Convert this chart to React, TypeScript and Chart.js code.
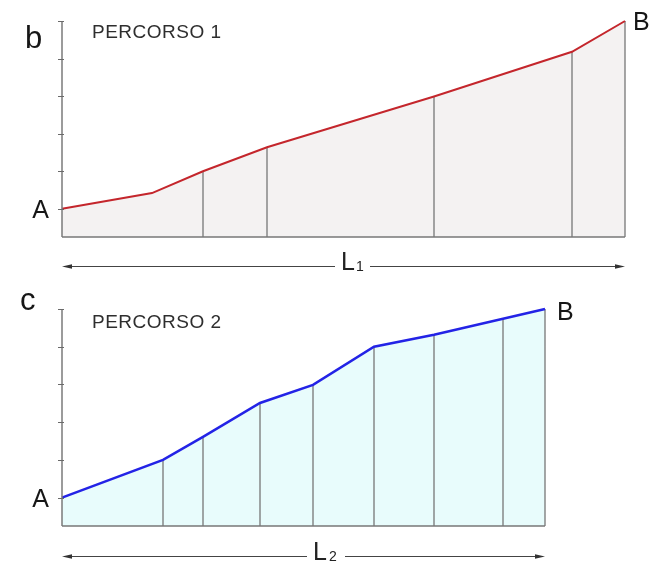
import React, { useEffect, useRef } from "react";
import { Chart, registerables } from "chart.js";

Chart.register(...registerables);

// ---- data ----
const yTicks = [0.75, 1.75, 2.75, 3.75, 4.75, 5.75];

const route1X = [0, 90, 141, 205, 372, 510, 563];
const route1Y = [0.75, 1.17, 1.75, 2.39, 3.74, 4.93, 5.75];
const route1Stations = [2, 3, 4, 5, 6];

const route2X = [0, 101, 141, 198, 251, 312, 372, 441, 483];
const route2Y = [0.75, 1.75, 2.36, 3.26, 3.74, 4.75, 5.07, 5.49, 5.75];
const route2Stations = [1, 2, 3, 4, 5, 6, 7, 8];

const FONT = '"Liberation Sans", Arial, sans-serif';

type Cfg = {
  xs: number[];
  ys: number[];
  stations: number[];
  lineColor: string;
  lineWidth: number;
  fillColor: string;
  letter: string;
  title: string;
  sub: string;
  pad: { left: number; right: number; top: number; bottom: number };
  letterPos: [number, number];
  titleBase: number;
  bOffset: [number, number];
  arrowDy: number;
  gap: [number, number];
  lX: number;
  subX: number;
  labelBase: number;
};

const cfg1: Cfg = {
  xs: route1X,
  ys: route1Y,
  stations: route1Stations,
  lineColor: "#c4262c",
  lineWidth: 2,
  fillColor: "#f4f2f2",
  letter: "b",
  title: "PERCORSO 1",
  sub: "1",
  pad: { left: 62, right: 30, top: 21, bottom: 45 },
  letterPos: [25, 48],
  titleBase: 38,
  bOffset: [8, 9],
  arrowDy: 29,
  gap: [335, 370],
  lX: 341,
  subX: 356,
  labelBase: 270,
};

const cfg2: Cfg = {
  xs: route2X,
  ys: route2Y,
  stations: route2Stations,
  lineColor: "#2323e6",
  lineWidth: 2.5,
  fillColor: "#e8fcfc",
  letter: "c",
  title: "PERCORSO 2",
  sub: "2",
  pad: { left: 62, right: 110, top: 27, bottom: 38 },
  letterPos: [20, 28],
  titleBase: 46,
  bOffset: [12, 11],
  arrowDy: 30,
  gap: [307, 345],
  lX: 313,
  subX: 329,
  labelBase: 278,
};

function makeDecor(c: Cfg) {
  return {
    id: "decor",
    afterDatasetsDraw(chart: any) {
      const { ctx, chartArea: a, scales } = chart;
      const y = scales.y;
      ctx.save();
      // y axis
      ctx.strokeStyle = "#7a7a7a";
      ctx.lineWidth = 1.5;
      ctx.beginPath();
      ctx.moveTo(a.left, a.top);
      ctx.lineTo(a.left, a.bottom);
      ctx.stroke();
      ctx.strokeStyle = "#6a6a6a";
      ctx.lineWidth = 1.2;
      ctx.beginPath();
      for (const v of yTicks) {
        const py = Math.round(y.getPixelForValue(v)) + 0.5;
        ctx.moveTo(a.left - 4, py);
        ctx.lineTo(a.left + 2, py);
      }
      ctx.stroke();
      // baseline
      ctx.strokeStyle = "#777";
      ctx.lineWidth = 1.5;
      ctx.beginPath();
      ctx.moveTo(a.left, a.bottom);
      ctx.lineTo(a.right, a.bottom);
      ctx.stroke();

      // arrow
      const ay = a.bottom + c.arrowDy + 0.5;
      ctx.strokeStyle = "#444";
      ctx.fillStyle = "#333";
      ctx.lineWidth = 1;
      ctx.beginPath();
      ctx.moveTo(a.left + 4, ay);
      ctx.lineTo(c.gap[0], ay);
      ctx.moveTo(c.gap[1], ay);
      ctx.lineTo(a.right - 4, ay);
      ctx.stroke();
      ctx.beginPath();
      ctx.moveTo(a.left, ay);
      ctx.lineTo(a.left + 10, ay - 2.2);
      ctx.lineTo(a.left + 10, ay + 2.2);
      ctx.closePath();
      ctx.fill();
      ctx.beginPath();
      ctx.moveTo(a.right, ay);
      ctx.lineTo(a.right - 10, ay - 2.2);
      ctx.lineTo(a.right - 10, ay + 2.2);
      ctx.closePath();
      ctx.fill();

      // texts
      ctx.textBaseline = "alphabetic";
      ctx.fillStyle = "#161616";
      ctx.textAlign = "left";
      ctx.font = `31px ${FONT}`;
      ctx.fillText(c.letter, c.letterPos[0], c.letterPos[1]);

      ctx.font = `25px ${FONT}`;
      const yA = y.getPixelForValue(c.ys[0]);
      const yB = y.getPixelForValue(c.ys[c.ys.length - 1]);
      ctx.textAlign = "right";
      ctx.fillText("A", a.left - 13, yA + 9);
      ctx.textAlign = "left";
      ctx.fillText("B", a.right + c.bOffset[0], yB + c.bOffset[1]);

      ctx.fillStyle = "#222";
      ctx.font = `25px ${FONT}`;
      ctx.fillText("L", c.lX, c.labelBase);
      ctx.font = `14px ${FONT}`;
      ctx.fillText(c.sub, c.subX, c.labelBase + 1);

      ctx.fillStyle = "#2e2e2e";
      ctx.font = `19px ${FONT}`;
      try {
        (ctx as any).letterSpacing = "0.5px";
      } catch (e) {}
      ctx.fillText(c.title, 92, c.titleBase);
      ctx.restore();
    },
  };
}

function Profile({ c, top }: { c: Cfg; top: number }) {
  const ref = useRef<HTMLCanvasElement>(null);
  useEffect(() => {
    const canvas = ref.current;
    if (!canvas) return;
    const profile = c.xs.map((x, i) => ({ x, y: c.ys[i] }));
    const verticals: any[] = [];
    c.stations.forEach((i) => {
      verticals.push({ x: c.xs[i], y: 0 });
      verticals.push({ x: c.xs[i], y: c.ys[i] });
      verticals.push({ x: c.xs[i], y: null });
    });
    const chart = new Chart(canvas, {
      type: "line",
      data: {
        datasets: [
          {
            data: profile,
            borderColor: c.lineColor,
            borderWidth: c.lineWidth,
            backgroundColor: c.fillColor,
            fill: "origin",
            pointRadius: 0,
            tension: 0,
            clip: false as any,
            order: 1,
          },
          {
            data: verticals,
            borderColor: "#777",
            borderWidth: 1.3,
            pointRadius: 0,
            fill: false,
            spanGaps: false,
            tension: 0,
            clip: false as any,
            order: 2,
          },
        ],
      },
      options: {
        responsive: false,
        animation: false,
        events: [],
        layout: { padding: c.pad },
        scales: {
          x: {
            type: "linear",
            display: false,
            min: 0,
            max: c.xs[c.xs.length - 1],
          },
          y: { display: false, min: 0, max: yTicks[yTicks.length - 1] },
        },
        plugins: {
          legend: { display: false },
          tooltip: { enabled: false },
          filler: { drawTime: "beforeDatasetsDraw" } as any,
        },
      },
      plugins: [makeDecor(c)],
    });
    return () => chart.destroy();
  }, []);
  return (
    <canvas
      ref={ref}
      width={655}
      height={282}
      style={{ position: "absolute", left: 0, top, width: 655, height: 282 }}
    />
  );
}

export default function App() {
  return (
    <div
      style={{
        position: "fixed",
        left: 0,
        top: 0,
        width: 655,
        height: 564,
        background: "#fff",
        overflow: "hidden",
      }}
    >
      <Profile c={cfg1} top={0} />
      <Profile c={cfg2} top={282} />
    </div>
  );
}
